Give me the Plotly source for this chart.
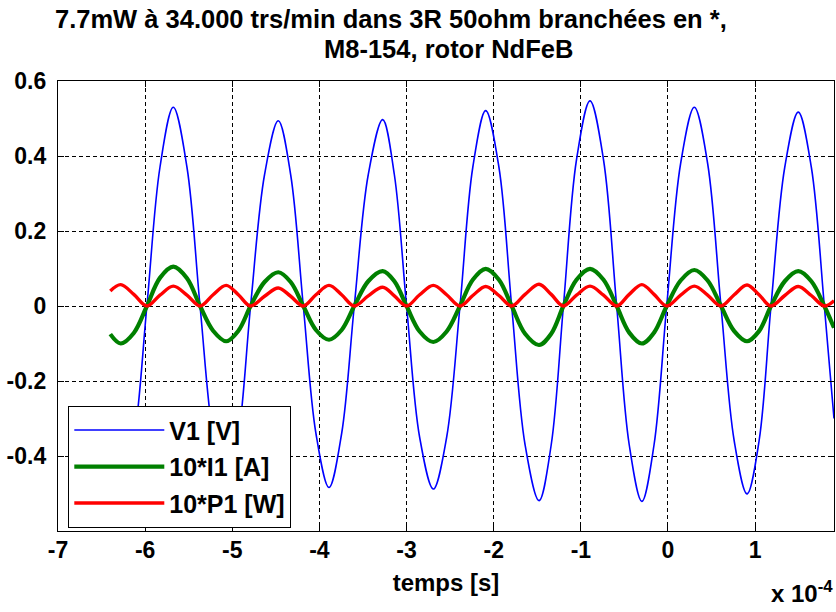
import plotly.graph_objects as go

# ---- data (time in units of 1e-4 s) ----
TIME_UNIT = 1e-4
t_e4 = [-6.40, -6.28, -6.13, -5.98, -5.83, -5.677, -5.52, -5.37, -5.22, -5.07,
        -4.93, -4.79, -4.63, -4.472, -4.33, -4.185, -4.04, -3.89, -3.745, -3.60,
        -3.44, -3.274, -3.14, -3.00, -2.85, -2.693, -2.54, -2.387, -2.24, -2.092,
        -1.94, -1.794, -1.64, -1.48, -1.34, -1.20, -1.05, -0.895, -0.74, -0.589,
        -0.445, -0.30, -0.16, -0.015, 0.145, 0.302, 0.455, 0.608, 0.76, 0.907,
        1.045, 1.182, 1.34, 1.495, 1.645, 1.794, 1.905]

v1 = [-0.46, -0.50, -0.36, 0.0, 0.37, 0.530, 0.37, 0.0, -0.35, -0.50,
      -0.35, 0.0, 0.35, 0.494, 0.35, 0.0, -0.34, -0.484, -0.34, 0.0,
      0.35, 0.497, 0.35, 0.0, -0.35, -0.488, -0.35, 0.0, 0.37, 0.521,
      0.37, 0.0, -0.37, -0.519, -0.37, 0.0, 0.39, 0.547, 0.39, 0.0,
      -0.37, -0.521, -0.37, 0.0, 0.38, 0.530, 0.38, 0.0, -0.36, -0.501,
      -0.36, 0.0, 0.37, 0.517, 0.37, 0.0, -0.30]

i1_x10 = [-0.075, -0.100, -0.072, 0.0, 0.075, 0.105, 0.074, 0.0, -0.066, -0.094,
          -0.066, 0.0, 0.064, 0.090, 0.064, 0.0, -0.064, -0.090, -0.064, 0.0,
          0.066, 0.093, 0.066, 0.0, -0.068, -0.096, -0.068, 0.0, 0.070, 0.099,
          0.070, 0.0, -0.074, -0.104, -0.074, 0.0, 0.070, 0.099, 0.070, 0.0,
          -0.071, -0.100, -0.071, 0.0, 0.068, 0.096, 0.068, 0.0, -0.067, -0.094,
          -0.067, 0.0, 0.066, 0.093, 0.066, 0.0, -0.058]

p1_x10 = [0.040, 0.057, 0.031, 0.0, 0.029, 0.053, 0.029, 0.0, 0.030, 0.055,
          0.030, 0.0, 0.026, 0.048, 0.026, 0.0, 0.030, 0.055, 0.030, 0.0,
          0.027, 0.050, 0.027, 0.0, 0.030, 0.055, 0.030, 0.0, 0.028, 0.052,
          0.028, 0.0, 0.031, 0.058, 0.031, 0.0, 0.029, 0.053, 0.029, 0.0,
          0.031, 0.057, 0.031, 0.0, 0.029, 0.053, 0.029, 0.0, 0.030, 0.056,
          0.030, 0.0, 0.028, 0.052, 0.028, 0.0, 0.014]

series_names = ["V1 [V]", "10*I1 [A]", "10*P1 [W]"]
x_tick_labels = ["-7", "-6", "-5", "-4", "-3", "-2", "-1", "0", "1"]
y_tick_values = [-0.4, -0.2, 0, 0.2, 0.4, 0.6]
y_tick_labels = ["-0.4", "-0.2", "0", "0.2", "0.4", "0.6"]
title_line1 = "7.7mW à 34.000 trs/min dans 3R 50ohm branchées en *,"
title_line2 = "M8-154, rotor NdFeB"
x_label = "temps [s]"

# ---- figure ----
t = [v * TIME_UNIT for v in t_e4]
x_tick_vals = [float(s) * TIME_UNIT for s in x_tick_labels]

FONT = "Liberation Sans, Arial, Helvetica, sans-serif"

fig = go.Figure()
styles = [("#0000ff", 1.6), ("#008000", 4.2), ("#ff0000", 3.4)]
for name, ys, (col, w) in zip(series_names, [v1, i1_x10, p1_x10], styles):
    fig.add_trace(go.Scatter(
        x=t, y=ys, mode="lines", name=name, legendgroup=name,
        line=dict(color=col, width=w, shape="spline", smoothing=1.0),
    ))

axis_common = dict(
    showgrid=True, gridcolor="black", gridwidth=1.2, griddash="4px,3px",
    showline=True, linecolor="black", linewidth=1.3, mirror="ticks",
    ticks="inside", ticklen=6, tickcolor="black", tickwidth=1.3,
    zeroline=False, automargin=False,
    tickfont=dict(family=FONT, size=23, color="black", weight="bold"),
)

fig.update_layout(
    width=836, height=612,
    margin=dict(l=58, r=2, t=81, b=81, autoexpand=False),
    paper_bgcolor="white", plot_bgcolor="white",
    font=dict(family=FONT, color="black"),
    xaxis=dict(
        range=[-7 * TIME_UNIT, 1.905 * TIME_UNIT],
        tickvals=x_tick_vals, ticktext=x_tick_labels,
        ticklabelstandoff=-2,
        title=dict(text=x_label, standoff=12,
                   font=dict(family=FONT, size=24, color="black", weight="bold")),
        **axis_common,
    ),
    yaxis=dict(
        range=[-0.6, 0.6],
        tickvals=y_tick_values, ticktext=y_tick_labels,
        ticklabelstandoff=6,
        **axis_common,
    ),
    showlegend=True,
    legend=dict(
        x=(68 - 58) / 776, y=(531 - 406) / 450, xanchor="left", yanchor="top",
        bgcolor="white", bordercolor="black", borderwidth=1.3,
        font=dict(family=FONT, size=25, color="black", weight="bold"),
        itemwidth=90, traceorder="grouped", tracegroupgap=1,
    ),
    annotations=[
        dict(text=title_line1, xref="paper", yref="paper",
             x=(391 - 58) / 776, y=(531 - 19) / 450, xanchor="center", yanchor="middle",
             showarrow=False,
             font=dict(family=FONT, size=25.5, color="black", weight="bold")),
        dict(text=title_line2, xref="paper", yref="paper",
             x=(448 - 58) / 776, y=(531 - 49) / 450, xanchor="center", yanchor="middle",
             showarrow=False,
             font=dict(family=FONT, size=25.5, color="black", weight="bold")),
        dict(text="x 10<sup>-4</sup>", xref="paper", yref="paper",
             x=(769 - 58) / 776, y=(531 - 592) / 450, xanchor="left", yanchor="middle",
             showarrow=False,
             font=dict(family=FONT, size=24, color="black", weight="bold")),
    ],
)

fig.write_html(
    "out.html",
    config={"displayModeBar": False},
    post_script="document.body.style.margin='0';document.body.style.overflow='hidden';",
)
